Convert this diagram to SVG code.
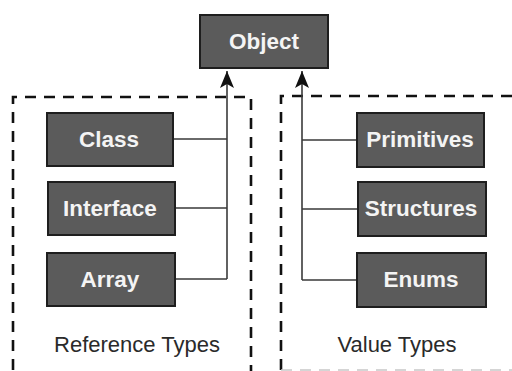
<svg xmlns="http://www.w3.org/2000/svg" width="512" height="371" viewBox="0 0 512 371">
<defs>
<style>
.box{fill:#5b5b5b;stroke:#1e1e1e;stroke-width:2}
.bt{font-family:"Liberation Sans",Arial,sans-serif;font-weight:bold;font-size:22.5px;fill:#f4f4f4;text-anchor:middle}
.lbl{font-family:"Liberation Sans",Arial,sans-serif;font-size:22px;fill:#2a2a2a;text-anchor:middle}
.dash{fill:none;stroke:#111;stroke-width:2.6;stroke-dasharray:11 8}
.conn{fill:none;stroke:#3a3a3a;stroke-width:1.6}
</style>
<marker id="ah" viewBox="0 0 17 14" refX="17" refY="7" markerWidth="17" markerHeight="14" markerUnits="userSpaceOnUse" orient="auto">
<path d="M17,7 L0,14 L4,7 L0,0 Z" fill="#111"/>
</marker>
</defs>
<rect width="512" height="371" fill="#ffffff"/>
<g id="groups">
<path class="dash" d="M13,370 V97 H251 V371"/>
<path class="dash" d="M281,370 V96 H512"/>
<path d="M281,370 H512" fill="none" stroke="#c8c8c8" stroke-width="1.5" stroke-dasharray="11 8"/>
</g>
<g id="connectors">
<path class="conn" d="M227,279 V71" marker-end="url(#ah)"/>
<path class="conn" d="M173,139 H227 M175,208 H227 M175,279 H227"/>
<path class="conn" d="M302,280 V71" marker-end="url(#ah)"/>
<path class="conn" d="M302,140 H357 M302,209 H358 M302,280 H357"/>
</g>
<g id="object"><rect class="box" x="200" y="15" width="128" height="53"/><text class="bt" x="264" y="49">Object</text></g>
<g id="class"><rect class="box" x="47" y="113" width="126" height="53"/><text class="bt" x="109" y="147">Class</text></g>
<g id="interface"><rect class="box" x="48" y="182" width="127" height="53"/><text class="bt" x="110" y="216">Interface</text></g>
<g id="array"><rect class="box" x="47" y="253" width="128" height="53"/><text class="bt" x="110" y="287">Array</text></g>
<g id="primitives"><rect class="box" x="357" y="113" width="127" height="54"/><text class="bt" x="420" y="147">Primitives</text></g>
<g id="structures"><rect class="box" x="358" y="182" width="128" height="54"/><text class="bt" x="421" y="216">Structures</text></g>
<g id="enums"><rect class="box" x="357" y="253" width="129" height="54"/><text class="bt" x="421" y="287">Enums</text></g>
<g id="labels">
<text class="lbl" x="137" y="352">Reference Types</text>
<text class="lbl" x="397" y="352">Value Types</text>
</g>
</svg>
